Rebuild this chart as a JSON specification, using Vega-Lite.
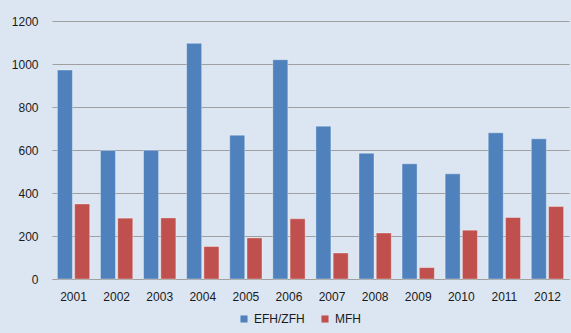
{
  "$schema": "https://vega.github.io/schema/vega-lite/v6.json",
  "width": 517,
  "height": 258,
  "autosize": {"type": "none"},
  "padding": {"left": 52, "top": 21, "right": 2, "bottom": 54},
  "background": "#dce6f2",
  "config": {
    "view": {"stroke": null},
    "font": "Liberation Sans",
    "axis": {"labelFont": "Liberation Sans", "labelFontSize": 12, "labelColor": "#1a1a1a"},
    "legend": {"labelFont": "Liberation Sans", "labelFontSize": 12, "labelColor": "#1a1a1a"}
  },
  "data": {
    "values": [
      {"year": "2001", "type": "EFH/ZFH", "value": 972},
      {"year": "2001", "type": "MFH", "value": 349},
      {"year": "2002", "type": "EFH/ZFH", "value": 598},
      {"year": "2002", "type": "MFH", "value": 283},
      {"year": "2003", "type": "EFH/ZFH", "value": 599},
      {"year": "2003", "type": "MFH", "value": 284},
      {"year": "2004", "type": "EFH/ZFH", "value": 1096},
      {"year": "2004", "type": "MFH", "value": 151},
      {"year": "2005", "type": "EFH/ZFH", "value": 669},
      {"year": "2005", "type": "MFH", "value": 191},
      {"year": "2006", "type": "EFH/ZFH", "value": 1020},
      {"year": "2006", "type": "MFH", "value": 280},
      {"year": "2007", "type": "EFH/ZFH", "value": 711},
      {"year": "2007", "type": "MFH", "value": 121},
      {"year": "2008", "type": "EFH/ZFH", "value": 585},
      {"year": "2008", "type": "MFH", "value": 214},
      {"year": "2009", "type": "EFH/ZFH", "value": 536},
      {"year": "2009", "type": "MFH", "value": 53},
      {"year": "2010", "type": "EFH/ZFH", "value": 489},
      {"year": "2010", "type": "MFH", "value": 227},
      {"year": "2011", "type": "EFH/ZFH", "value": 680},
      {"year": "2011", "type": "MFH", "value": 286},
      {"year": "2012", "type": "EFH/ZFH", "value": 652},
      {"year": "2012", "type": "MFH", "value": 337}
    ]
  },
  "mark": {"type": "bar", "strokeWidth": 1, "strokeOpacity": 0.35, "stroke": "#ffffff"},
  "encoding": {
    "x": {
      "field": "year", "type": "nominal", "title": null,
      "scale": {"paddingInner": 0.25, "paddingOuter": 0.125},
      "axis": {"labelAngle": 0, "ticks": false, "domainColor": "#a0a0a0", "domainWidth": 1, "labelPadding": 12, "grid": false}
    },
    "xOffset": {"field": "type", "type": "nominal", "scale": {"paddingInner": 0.13}},
    "y": {
      "field": "value", "type": "quantitative", "title": null,
      "scale": {"domain": [0, 1200]},
      "axis": {"values": [0, 200, 400, 600, 800, 1000, 1200], "format": "d", "ticks": false, "domain": false, "gridColor": "#a0a0a0", "gridWidth": 1, "labelPadding": 14}
    },
    "color": {
      "field": "type", "type": "nominal", "title": null,
      "scale": {"domain": ["EFH/ZFH", "MFH"], "range": ["#4f81bd", "#c0504d"]},
      "legend": {"orient": "none", "legendX": 186, "legendY": 292, "direction": "horizontal", "symbolType": "square", "symbolSize": 50, "symbolStrokeWidth": 0, "columnPadding": 14, "labelOffset": 4}
    }
  }
}
